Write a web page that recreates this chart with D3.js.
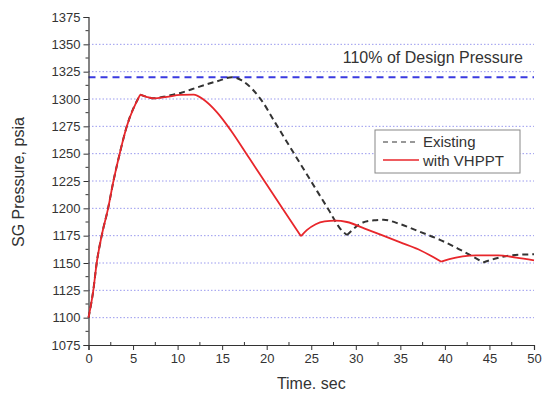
<!DOCTYPE html>
<html>
<head>
<meta charset="utf-8">
<script src="https://cdn.jsdelivr.net/npm/d3@7"></script>
<style>
  body { margin: 0; background: #fff; }
  svg text { font-family: "Liberation Sans", Arial, sans-serif; fill: #333; }
</style>
</head>
<body>
<div id="chart"></div>
<script>
// with VHPPT (red solid)
const tRed = [0, 0.54, 0.92, 1.48, 2.2, 2.8, 3.5, 4.3, 5.8, 6.5, 7.3, 8.8, 10.3, 11.8, 12.9, 14.4, 16, 18, 20, 22, 23.85, 24.5, 25.5, 26.5, 27.7, 29, 31, 33, 35, 37, 39.6, 40.5, 42, 43.5, 46, 48, 50];
const pRed = [1100, 1125, 1150, 1175, 1200, 1225, 1250, 1275, 1304, 1302, 1300.6, 1302, 1303.7, 1304, 1299.5, 1288, 1271, 1246.4, 1221.8, 1197.2, 1174.5, 1180, 1185.5, 1188, 1188.7, 1187.5, 1181.5, 1175.2, 1168.9, 1162.6, 1151.2, 1153.5, 1156, 1157, 1157, 1155, 1152.5];
const redCusps = [5.8, 23.85, 39.6];

// Existing (black dashed)
const tExist = [0, 0.54, 0.92, 1.48, 2.2, 2.8, 3.5, 4.3, 5.8, 6.5, 7.3, 8.4, 9.5, 10.5, 12, 13.3, 14.75, 16.1, 17.2, 18.5, 19.4, 21, 23, 25, 27, 28.2, 29, 30.8, 32, 33.1, 35, 37.2, 39.5, 41.5, 43, 44.3, 45.8, 47.5, 50];
const pExist = [1100, 1125, 1150, 1175, 1200, 1225, 1250, 1275, 1304, 1302, 1300.6, 1302, 1304, 1306, 1310, 1313.5, 1317, 1320, 1317, 1308, 1299, 1277.7, 1251, 1224.5, 1198, 1182, 1175.5, 1187, 1189, 1189.5, 1185.5, 1178.5, 1171, 1163, 1156.5, 1150.5, 1154.3, 1157, 1158];
const existCusps = [5.8, 29, 44.3];

const designPressure = 1320;
const xTicks = [0, 5, 10, 15, 20, 25, 30, 35, 40, 45, 50];
const yTicks = [1075, 1100, 1125, 1150, 1175, 1200, 1225, 1250, 1275, 1300, 1325, 1350, 1375];
const gridValues = [1100, 1125, 1150, 1175, 1200, 1225, 1250, 1275, 1300, 1325, 1350];

const W = 544, H = 394;
const margin = {left: 88.5, right: 10, top: 17, bottom: 49};

const svg = d3.select("#chart").append("svg")
  .attr("width", W)
  .attr("height", H);

const x = d3.scaleLinear().domain([0, 50]).range([margin.left, W - margin.right]);
const y = d3.scaleLinear().domain([1075, 1375]).range([H - margin.bottom, margin.top]);

// grid
svg.append("g")
  .selectAll("line")
  .data(gridValues)
  .join("line")
  .attr("x1", x(0)).attr("x2", x(50))
  .attr("y1", d => y(d)).attr("y2", d => y(d))
  .attr("stroke", "#9a9aee")
  .attr("stroke-width", 1)
  .attr("stroke-dasharray", "1.5,2");

// design pressure line
svg.append("line")
  .attr("x1", x(0)).attr("x2", x(50))
  .attr("y1", y(designPressure)).attr("y2", y(designPressure))
  .attr("stroke", "#3a3ae0")
  .attr("stroke-width", 2)
  .attr("stroke-dasharray", "7,5");

svg.append("text")
  .attr("x", 523).attr("y", 63)
  .attr("text-anchor", "end")
  .attr("font-size", 16)
  .text("110% of Design Pressure");

// axes
const xAxis = svg.append("g")
  .attr("transform", `translate(0,${y(1075)})`)
  .call(d3.axisBottom(x).tickValues(xTicks).tickSize(5).tickPadding(4));
const yAxis = svg.append("g")
  .attr("transform", `translate(${x(0)},0)`)
  .call(d3.axisLeft(y).tickValues(yTicks).tickFormat(d3.format("d")).tickSize(5).tickPadding(3));

[xAxis, yAxis].forEach(g => {
  g.select(".domain").attr("stroke", "#333").attr("stroke-width", 1.2);
  g.selectAll(".tick line").attr("stroke", "#333");
  g.selectAll(".tick text")
    .attr("font-size", 13)
    .attr("font-family", "Liberation Sans, Arial, sans-serif")
    .attr("fill", "#333");
});

// minor ticks
const xMinor = d3.range(2.5, 50, 5);
svg.append("g").selectAll("line").data(xMinor).join("line")
  .attr("x1", d => x(d)).attr("x2", d => x(d))
  .attr("y1", y(1075)).attr("y2", y(1075) - 3)
  .attr("stroke", "#333");
const yMinor = d3.range(1087.5, 1375, 25);
svg.append("g").selectAll("line").data(yMinor).join("line")
  .attr("x1", x(0) - 3).attr("x2", x(0))
  .attr("y1", d => y(d)).attr("y2", d => y(d))
  .attr("stroke", "#333");

// axis titles
svg.append("text")
  .attr("x", x(25)).attr("y", 389)
  .attr("text-anchor", "middle")
  .attr("font-size", 16)
  .text("Time. sec");

svg.append("text")
  .attr("transform", `translate(24,${y(1224)}) rotate(-90)`)
  .attr("text-anchor", "middle")
  .attr("font-size", 16)
  .text("SG Pressure, psia");

// series: smooth between cusps, sharp at cusps
const line = d3.line().x(d => x(d[0])).y(d => y(d[1])).curve(d3.curveMonotoneX);

function splitAtCusps(ts, ps, cusps) {
  const pts = d3.zip(ts, ps);
  const parts = [];
  let cur = [];
  pts.forEach(p => {
    cur.push(p);
    if (cusps.includes(p[0])) {
      parts.push(cur);
      cur = [p];
    }
  });
  if (cur.length > 1) parts.push(cur);
  return parts.map(line).join("");
}

svg.append("path")
  .attr("fill", "none")
  .attr("stroke", "#333")
  .attr("stroke-width", 2)
  .attr("stroke-dasharray", "6,4")
  .attr("d", splitAtCusps(tExist, pExist, existCusps));

svg.append("path")
  .attr("fill", "none")
  .attr("stroke", "#e8262b")
  .attr("stroke-width", 1.8)
  .attr("d", splitAtCusps(tRed, pRed, redCusps));

// legend
const lg = svg.append("g");
lg.append("rect")
  .attr("x", 375).attr("y", 130)
  .attr("width", 145).attr("height", 43)
  .attr("fill", "#fff")
  .attr("stroke", "#888");
lg.append("line")
  .attr("x1", 383).attr("x2", 419).attr("y1", 142).attr("y2", 142)
  .attr("stroke", "#333").attr("stroke-width", 1.2)
  .attr("stroke-dasharray", "5,4");
lg.append("line")
  .attr("x1", 383).attr("x2", 419).attr("y1", 160).attr("y2", 160)
  .attr("stroke", "#e8262b").attr("stroke-width", 1.5);
lg.append("text").attr("x", 423).attr("y", 147).attr("font-size", 15).text("Existing");
lg.append("text").attr("x", 423).attr("y", 166).attr("font-size", 15).text("with VHPPT");
</script>
</body>
</html>
